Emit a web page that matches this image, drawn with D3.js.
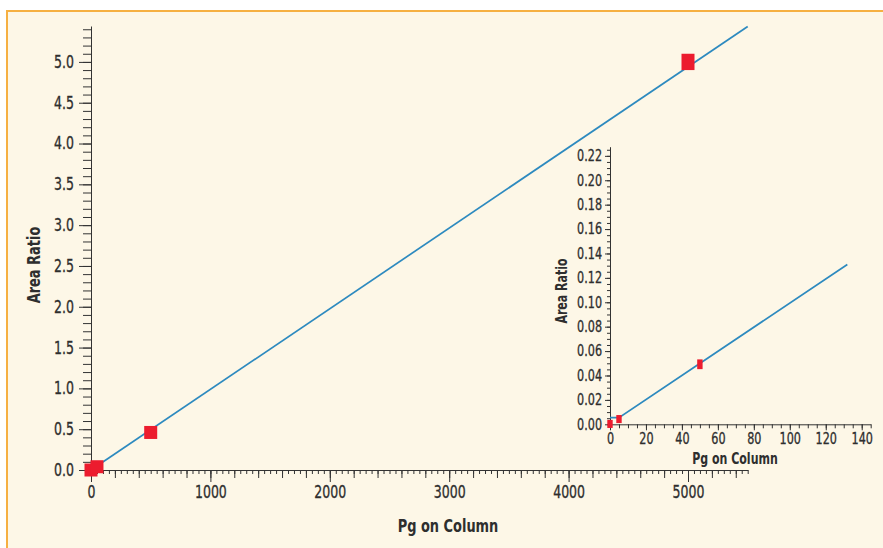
<!DOCTYPE html>
<html>
<head>
<meta charset="utf-8">
<script src="https://cdn.jsdelivr.net/npm/d3@7"></script>
<style>
  html, body { margin: 0; padding: 0; background: #fff; }
  svg text { font-family: "DejaVu Sans Condensed", "DejaVu Sans", sans-serif; fill: #2e2e2e; }
  .axis path, .axis line { stroke: #333; }
</style>
</head>
<body>
<svg id="chart" width="883" height="548"></svg>
<script>
// main calibration
const mainX = [0, 50, 500, 5000];
const mainY = [0.0, 0.04, 0.46, 5.0];
const mainErr = [0, 0, 0, 0.1];
const mainLineX = [0, 5500];
const mainLineY = [0, 5.434];
const mainXTicks = [0, 1000, 2000, 3000, 4000, 5000];
const mainYTicks = [0.0, 0.5, 1.0, 1.5, 2.0, 2.5, 3.0, 3.5, 4.0, 4.5, 5.0];

// inset, low end
const insetX = [0, 5, 50];
const insetY = [0.0003, 0.0043, 0.0492];
const insetErr = [0.0033, 0.0033, 0.004];
const insetLineX = [0, 5, 132];
const insetLineY = [0.0054, 0.0054, 0.131];
const insetXTicks = [0, 20, 40, 60, 80, 100, 120, 140];
const insetYTicks = [0.00, 0.02, 0.04, 0.06, 0.08, 0.10, 0.12, 0.14, 0.16, 0.18, 0.20, 0.22];

const svg = d3.select("#chart");
const red = "#ec1c2e", blue = "#2d8abf";

// no narrow font installed, so squash the condensed one a bit more
function squeeze(sel, sx) {
  sel.each(function () {
    const t = d3.select(this);
    const x0 = +t.attr("x") || 0;
    t.attr("x", x0 / sx).attr("transform", `scale(${sx},1)`);
  });
}

// panel background + orange frame
svg.append("rect").attr("x", 7).attr("y", 11).attr("width", 876).attr("height", 537).attr("fill", "#fdf7e7");
svg.append("line").attr("x1", 6).attr("x2", 883).attr("y1", 11).attr("y2", 11).attr("stroke", "#f6b042").attr("stroke-width", 2);
svg.append("line").attr("x1", 7).attr("x2", 7).attr("y1", 10).attr("y2", 548).attr("stroke", "#f6b042").attr("stroke-width", 2);

// ---------- main chart ----------
const x = d3.scaleLinear().domain([0, 5500]).range([91, 747.7]);
const y = d3.scaleLinear().domain([0, 5.44]).range([470, 26]);

const gx = svg.append("g").attr("class", "axis").attr("transform", "translate(0,470)");
gx.call(d3.axisBottom(x).tickValues(d3.range(0, 5501, 50)).tickSize(4).tickSizeOuter(0).tickFormat(""));
gx.append("g").call(d3.axisBottom(x).tickValues(d3.range(0, 5501, 200)).tickSize(8).tickFormat("")).select(".domain").remove();
gx.append("g").call(d3.axisBottom(x).tickValues(mainXTicks).tickSize(12).tickPadding(4).tickFormat(d3.format("d")))
  .call(g => g.select(".domain").remove())
  .selectAll("text").attr("font-size", 17).attr("fill", "#2e2e2e").attr("stroke", "#2e2e2e").attr("stroke-width", 0.3)
  .call(squeeze, 0.82);

const gy = svg.append("g").attr("class", "axis").attr("transform", "translate(91,0)");
gy.call(d3.axisLeft(y).tickValues(d3.range(0, 5.45, 0.1)).tickSize(8).tickSizeOuter(0).tickFormat(""));
gy.append("g").call(d3.axisLeft(y).tickValues(mainYTicks).tickSize(12).tickPadding(5).tickFormat(d3.format(".1f")))
  .call(g => g.select(".domain").remove())
  .selectAll("text").attr("font-size", 17).attr("fill", "#2e2e2e").attr("stroke", "#2e2e2e").attr("stroke-width", 0.3)
  .call(squeeze, 0.82);

svg.append("path")
  .datum(mainLineX.map((d, i) => [d, mainLineY[i]]))
  .attr("d", d3.line().x(d => x(d[0])).y(d => y(d[1])))
  .attr("fill", "none").attr("stroke", blue).attr("stroke-width", 1.7);

svg.append("g").selectAll("rect").data(mainX).join("rect")
  .attr("x", d => x(d) - 6.5)
  .attr("y", (d, i) => Math.min(y(mainY[i] + mainErr[i]), y(mainY[i]) - 6.5))
  .attr("width", 13)
  .attr("height", (d, i) => Math.max(13, y(mainY[i] - mainErr[i]) - y(mainY[i] + mainErr[i])))
  .attr("fill", red);

svg.append("g").attr("transform", "translate(448,532)")
  .append("text").attr("text-anchor", "middle").attr("transform", "scale(0.8,1)")
  .attr("font-size", 18).attr("font-weight", "bold").text("Pg on Column");
svg.append("g").attr("transform", "translate(40,265) rotate(-90)")
  .append("text").attr("text-anchor", "middle").attr("transform", "scale(0.8,1)")
  .attr("font-size", 18).attr("font-weight", "bold").text("Area Ratio");

// ---------- inset ----------
const ix = d3.scaleLinear().domain([0, 145]).range([610, 870.7]);
const iy = d3.scaleLinear().domain([0, 0.2275]).range([424.3, 146.7]);

const igx = svg.append("g").attr("class", "axis").attr("transform", "translate(0,424.3)");
igx.call(d3.axisBottom(ix).tickValues(d3.range(0, 146, 5)).tickSize(4).tickSizeOuter(0).tickFormat(""));
igx.append("g").call(d3.axisBottom(ix).tickValues(insetXTicks).tickSize(6).tickPadding(3).tickFormat(d3.format("d")))
  .call(g => g.select(".domain").remove())
  .selectAll("text").attr("font-size", 15).attr("fill", "#2e2e2e").attr("stroke", "#2e2e2e").attr("stroke-width", 0.3)
  .call(squeeze, 0.83);

const igy = svg.append("g").attr("class", "axis").attr("transform", "translate(610,0)");
igy.call(d3.axisLeft(iy).tickValues(d3.range(0, 0.2276, 0.005)).tickSize(3).tickSizeOuter(0).tickFormat(""));
igy.append("g").call(d3.axisLeft(iy).tickValues(insetYTicks).tickSize(5).tickPadding(3).tickFormat(d3.format(".2f")))
  .call(g => g.select(".domain").remove())
  .selectAll("text").attr("font-size", 15).attr("fill", "#2e2e2e").attr("stroke", "#2e2e2e").attr("stroke-width", 0.3)
  .call(squeeze, 0.83);

svg.append("path")
  .datum(insetLineX.map((d, i) => [d, insetLineY[i]]))
  .attr("d", d3.line().x(d => ix(d[0])).y(d => iy(d[1])))
  .attr("fill", "none").attr("stroke", blue).attr("stroke-width", 1.7);

svg.append("g").selectAll("rect").data(insetX).join("rect")
  .attr("x", d => ix(d) - 2.7)
  .attr("y", (d, i) => iy(insetY[i] + insetErr[i]))
  .attr("width", 5.4)
  .attr("height", (d, i) => iy(insetY[i] - insetErr[i]) - iy(insetY[i] + insetErr[i]))
  .attr("fill", red);

svg.append("g").attr("transform", "translate(735,464)")
  .append("text").attr("text-anchor", "middle").attr("transform", "scale(0.79,1)")
  .attr("font-size", 15.5).attr("font-weight", "bold").text("Pg on Column");
svg.append("g").attr("transform", "translate(567,291) rotate(-90)")
  .append("text").attr("text-anchor", "middle").attr("transform", "scale(0.79,1)")
  .attr("font-size", 15.5).attr("font-weight", "bold").text("Area Ratio");
</script>
</body>
</html>
